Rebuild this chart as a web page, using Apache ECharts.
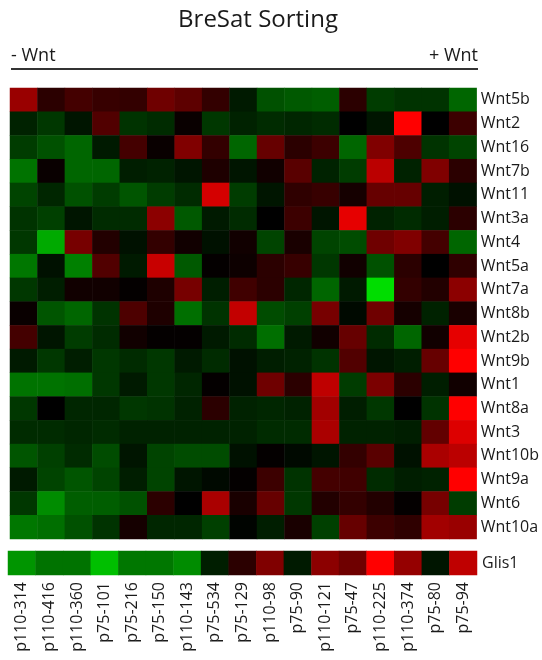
<!DOCTYPE html>
<html><head><meta charset="utf-8">
<script src="https://cdn.jsdelivr.net/npm/echarts@6/dist/echarts.min.js"></script>
<style>html,body{margin:0;padding:0;background:#fff}#c{width:542px;height:660px}</style>
</head><body><div id="c"></div>
<script>
const samples = ['p110-314','p110-416','p110-360','p75-101','p75-216','p75-150','p110-143','p75-534','p75-129','p110-98','p75-90','p110-121','p75-47','p110-225','p110-374','p75-80','p75-94'];
const genes = ['Wnt5b','Wnt2','Wnt16','Wnt7b','Wnt11','Wnt3a','Wnt4','Wnt5a','Wnt7a','Wnt8b','Wnt2b','Wnt9b','Wnt1','Wnt8a','Wnt3','Wnt10b','Wnt9a','Wnt6','Wnt10a'];
const wntMatrix = [
  [1.8,0.5,0.8,0.65,0.6,1.3,1.1,0.6,-0.3,-0.95,-1.05,-1.1,0.5,-0.7,-0.6,-0.6,-1.2],
  [-0.4,-0.65,-0.25,0.95,-0.6,-0.5,0.1,-0.65,-0.4,-0.5,-0.45,-0.5,0,-0.25,3,0,0.7],
  [-0.7,-0.95,-1.2,-0.3,0.8,0.1,1.5,0.6,-1.2,1.2,0.5,0.7,-1.2,1.5,0.9,-0.6,-0.8],
  [-1.35,0.1,-1.2,-1.2,-0.35,-0.4,-0.25,0.35,-0.25,0.2,1.05,-0.4,-0.7,2.2,-0.4,1.5,0.5],
  [-0.8,-0.45,-0.95,-0.7,-1.0,-0.7,-0.5,2.5,-0.7,-0.25,0.55,0.65,0.25,1.2,1.2,-0.35,-0.2],
  [-0.6,-0.75,-0.25,-0.5,-0.5,1.65,-1.05,-0.3,-0.5,0,0.7,-0.25,2.7,-0.4,-0.5,-0.35,0.5],
  [-0.65,-2.0,1.4,0.4,-0.2,0.6,0.2,-0.2,0.2,-0.8,0.3,-0.8,-0.9,1.3,1.5,0.8,-1.2],
  [-1.4,-0.2,-1.5,0.95,-0.3,2.35,-1.05,0.05,0.15,0.5,0.65,-0.65,0.2,-0.95,0.5,0,0.55],
  [-0.65,-0.35,0.2,0.2,0.05,0.35,1.4,-0.35,0.75,0.5,-0.45,-1.2,-0.3,-2.6,0.6,0.4,1.65],
  [0.1,-1.0,-1.2,-0.6,0.9,0.35,-1.3,-0.6,2.3,-0.9,-0.75,1.4,-0.1,1.3,0.25,-0.4,0.3],
  [0.8,-0.25,-0.7,-0.5,0.2,0.05,0.05,-0.3,-0.5,-1.3,-0.3,0.2,1.2,-0.5,-1.2,0.2,2.7],
  [-0.3,-0.65,-0.35,-0.65,-0.5,-0.65,-0.3,-0.5,-0.2,-0.35,-0.4,-0.6,0.95,-0.25,-0.35,1.2,3.0],
  [-1.35,-1.35,-1.3,-0.65,-0.3,-0.65,-0.45,0.05,-0.2,1.3,0.5,2.25,-0.7,1.45,0.5,-0.35,0.2],
  [-0.65,0,-0.45,-0.45,-0.65,-0.6,-0.4,0.5,-0.4,-0.45,-0.4,1.9,-0.35,-0.65,0,-0.6,3.0],
  [-0.5,-0.5,-0.45,-0.5,-0.4,-0.4,-0.4,-0.4,-0.4,-0.5,-0.5,2.0,-0.4,-0.4,-0.35,1.15,2.6],
  [-1.0,-0.75,-0.5,-0.9,-0.25,-0.8,-0.9,-0.9,-0.2,0.05,-0.1,-0.25,0.6,1.05,-0.2,2.0,2.2],
  [-0.3,-0.8,-1.0,-0.8,-0.35,-0.8,-0.25,-0.1,0.05,0.7,-0.6,0.8,0.75,-0.5,-0.35,-0.4,3.0],
  [-0.65,-1.65,-1.1,-1.1,-0.95,0.5,0,2.0,0.3,1.2,-0.65,0.4,0.6,0.4,0.05,1.4,-0.7],
  [-1.4,-1.3,-0.95,-0.6,0.25,-0.45,-0.45,-0.75,-0.05,-0.35,0.3,-0.75,1.2,0.7,0.55,1.9,1.8]
];
const glis1 = [-1.75,-1.35,-1.35,-2.25,-1.4,-1.4,-1.65,-0.35,0.5,1.5,-0.3,1.65,1.3,3.0,1.75,-0.25,2.25];

const FONT = 'Open Sans';
const wntData = [];
wntMatrix.forEach((row, r) => row.forEach((v, c) => wntData.push([c, r, v])));
const glisData = glis1.map((v, c) => [c, 0, v]);

const chart = echarts.init(document.getElementById('c'), null, {renderer: 'canvas'});
const labelStyle = {fontFamily: FONT, fontSize: 16, color: '#1a1a1a'};
chart.setOption({
  animation: false,
  backgroundColor: '#fff',
  grid: [
    {left: 10, top: 88, width: 468, height: 451},
    {left: 8, top: 551, width: 469, height: 24}
  ],
  xAxis: [
    {gridIndex: 0, type: 'category', data: samples, show: false},
    {gridIndex: 1, type: 'category', data: samples, position: 'bottom',
     axisLine: {show: false}, axisTick: {show: false},
     axisLabel: Object.assign({rotate: 90, interval: 0, margin: 7}, labelStyle)}
  ],
  yAxis: [
    {gridIndex: 0, type: 'category', data: genes, inverse: true, position: 'right',
     axisLine: {show: false}, axisTick: {show: false},
     axisLabel: Object.assign({margin: 4, interval: 0}, labelStyle)},
    {gridIndex: 1, type: 'category', data: ['Glis1'], position: 'right',
     axisLine: {show: false}, axisTick: {show: false},
     axisLabel: Object.assign({margin: 5}, labelStyle)}
  ],
  visualMap: {
    type: 'continuous', show: false, min: -3, max: 3, seriesIndex: [0, 1],
    inRange: {color: ['#00ff00', '#000000', '#ff0000']}
  },
  series: [
    {type: 'heatmap', xAxisIndex: 0, yAxisIndex: 0, data: wntData,
     itemStyle: {borderWidth: 0}, emphasis: {disabled: true}},
    {type: 'heatmap', xAxisIndex: 1, yAxisIndex: 1, data: glisData,
     itemStyle: {borderWidth: 0}, emphasis: {disabled: true}}
  ],
  graphic: [
    {type: 'text', left: 'center', top: 0, style: {text: 'BreSat Sorting', x: 258, y: 20, textAlign: 'center', textVerticalAlign: 'middle', font: '24px "Open Sans"', fill: '#1a1a1a'}, left: null, top: null},
    {type: 'text', style: {text: '- Wnt', x: 11, y: 56, textAlign: 'left', textVerticalAlign: 'middle', font: '18px "Open Sans"', fill: '#1a1a1a'}},
    {type: 'text', style: {text: '+ Wnt', x: 478, y: 56, textAlign: 'right', textVerticalAlign: 'middle', font: '18px "Open Sans"', fill: '#1a1a1a'}},
    {type: 'line', shape: {x1: 11, y1: 69, x2: 478, y2: 69}, style: {stroke: '#333', lineWidth: 2}}
  ]
});
</script></body></html>
